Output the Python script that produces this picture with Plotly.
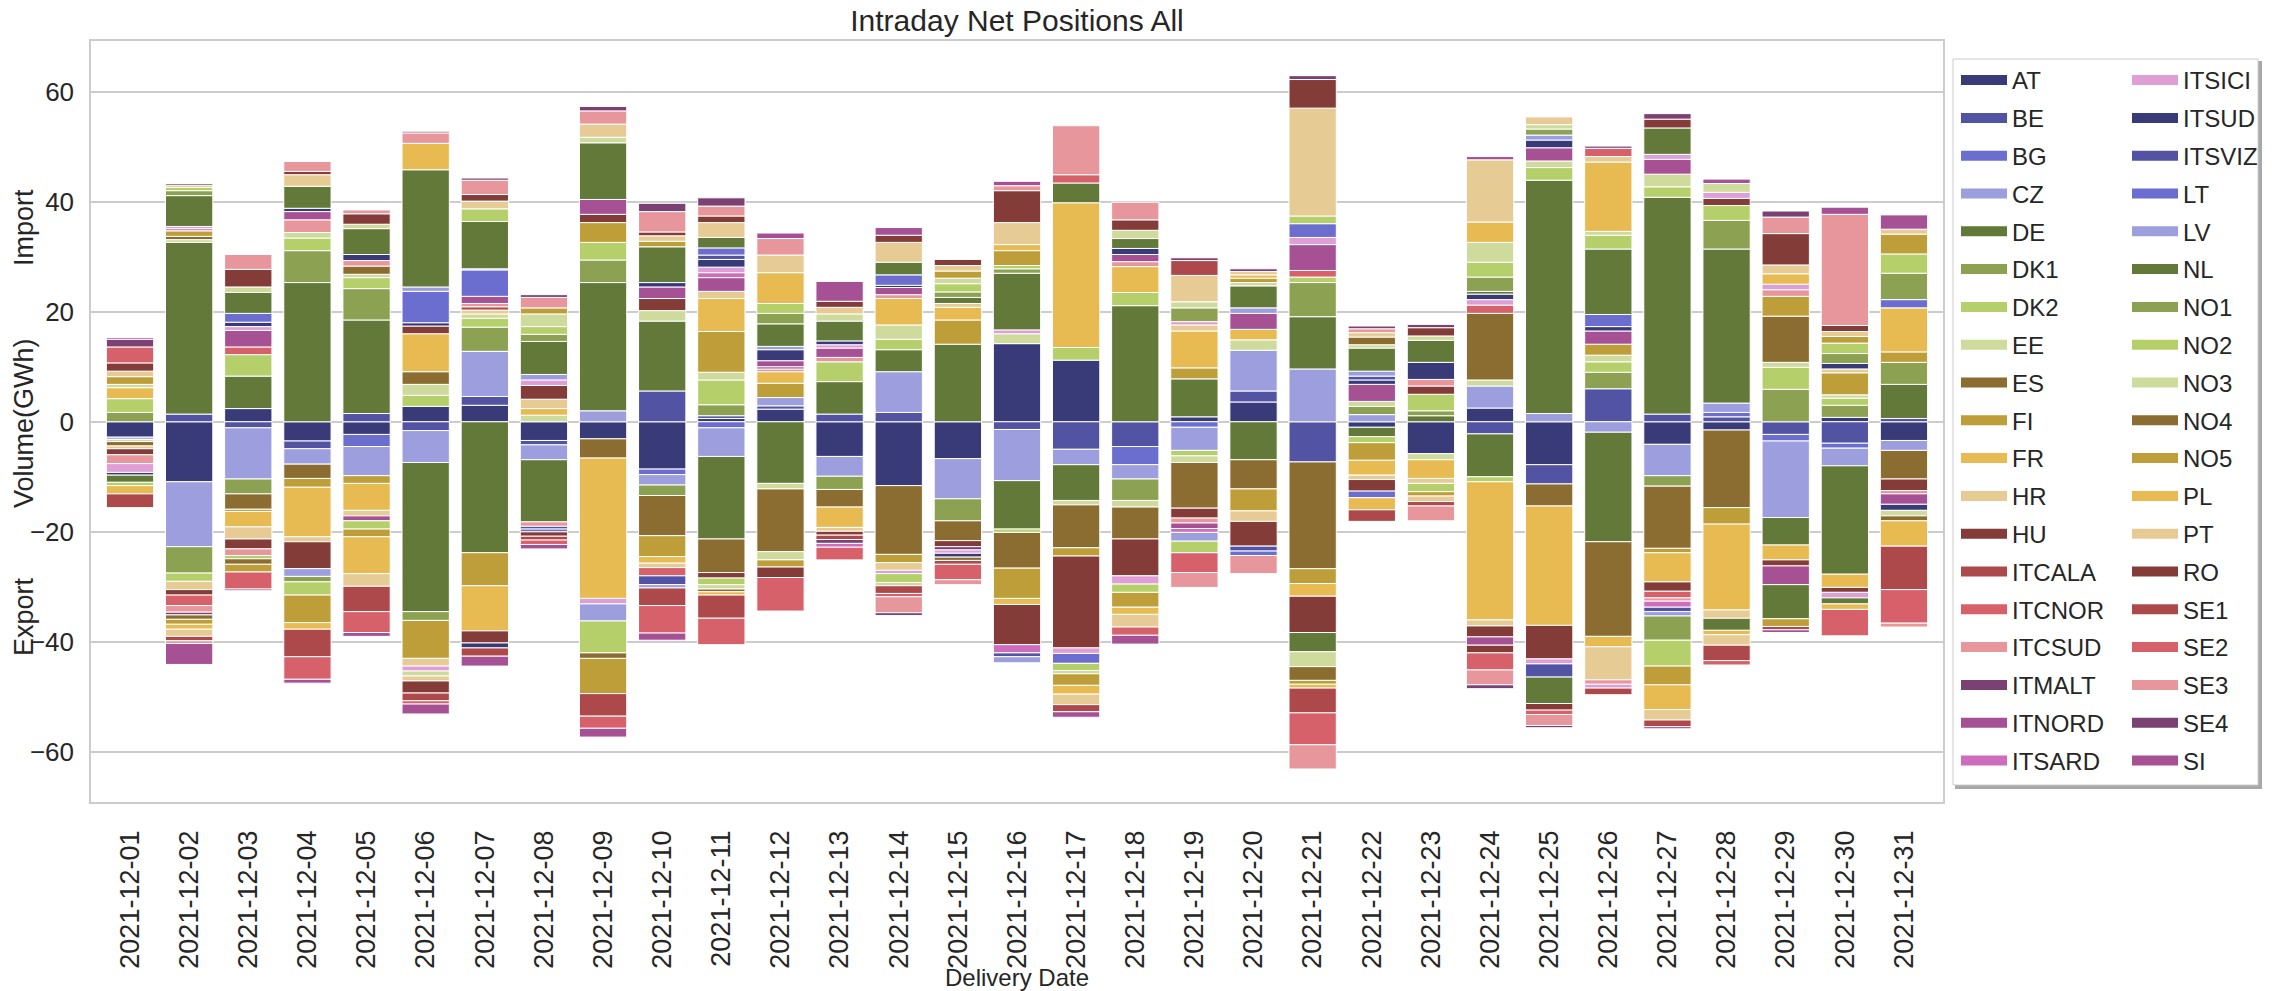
import plotly.graph_objects as go

dates = ["2021-12-01", "2021-12-02", "2021-12-03", "2021-12-04", "2021-12-05", "2021-12-06",
         "2021-12-07", "2021-12-08", "2021-12-09", "2021-12-10", "2021-12-11", "2021-12-12",
         "2021-12-13", "2021-12-14", "2021-12-15", "2021-12-16", "2021-12-17", "2021-12-18",
         "2021-12-19", "2021-12-20", "2021-12-21", "2021-12-22", "2021-12-23", "2021-12-24",
         "2021-12-25", "2021-12-26", "2021-12-27", "2021-12-28", "2021-12-29", "2021-12-30",
         "2021-12-31"]

# Net position per bidding zone (GWh), positive = import, negative = export
AT = [-2.8, -10.9, 2.4, -3.5, -2.3, 2.8, 3.0, -3.4, -3.1, -8.6, 0.6, 2.3, -6.3, -11.6, -6.7, 14.2, 11.2, 0, 0.9, 3.6, 0, -1.0, -5.8, 2.5, -7.8, 0, -4.1, -1.5, 0, 0.8, -3.4]
BE = [0, 1.4, -1.1, -1.4, 1.5, -1.6, 1.6, -0.8, 0, 5.6, 0.5, 0.6, 1.4, 1.7, 0, -1.4, -5.0, -4.5, 0, 2.0, -7.3, 0, 0, -2.2, -3.5, 6.0, 1.4, 0.9, -2.3, -3.9, 0.6]
BG = [0, 0, 0, 0, -2.2, 0, 0, 0, 0, -1.0, -1.1, 0, 0, 0, 0, 0, 0, -3.3, -1.0, 0, 0, 0, 0, 0, 0, 0, 0, 0.8, -1.2, -0.9, 0]
CZ = [-0.4, -11.8, -9.3, -2.8, -5.3, -5.8, 8.2, -2.7, 2.0, -1.9, -5.2, 1.5, -3.6, 7.4, -7.3, -9.3, -2.8, -2.6, -4.2, 7.4, 9.6, 1.3, 0, 4.0, 1.5, -1.9, -5.7, 1.7, -13.9, -3.2, -1.8]
DE = [0, 31.2, 5.9, 25.3, 17.0, -27.1, -23.8, -11.3, 23.3, 12.7, -15.0, -11.2, 5.9, 4.0, 14.1, -8.8, -6.5, 21.1, 6.9, -6.9, 9.5, -1.7, 1.1, -7.8, 42.4, -19.9, 39.4, 28.0, -5.0, -19.7, 6.2]
DK1 = [1.7, -4.8, -2.7, 5.8, 5.7, -1.6, 4.4, 0, 4.1, -1.9, 2.0, 0, -2.4, 0, -4.0, 0, 0, -3.9, 0, 0, 6.2, 1.5, 0.9, 0, 0, 3.0, -1.9, 5.2, 5.9, 2.2, 4.0]
DK2 = [2.5, -1.5, 3.9, 2.3, 2.0, 2.0, 1.6, 0, 3.2, 0, 4.5, 0, 3.6, 1.9, 0, -0.6, 2.3, 2.4, -1.0, 0, 1.0, -1.1, 3.0, -0.9, 2.3, 1.9, 1.9, 2.7, 4.0, 1.3, 0]
EE = [-0.4, 0.5, 0, 1.0, 0.6, 2.0, 0.8, 1.2, 0, 1.9, 1.4, -1.0, 0, 2.6, 0, 1.8, -0.8, -1.2, -1.2, 1.9, 0, 0.9, -1.1, 1.1, 1.2, 1.2, 2.3, 0, 0.9, 0.6, 0]
ES = [-0.8, 0.6, -2.8, -2.6, 1.5, 2.3, 0, 0, -3.5, -7.3, -6.1, -11.4, -3.2, -12.5, -3.6, -6.5, -7.8, -5.8, -8.3, -5.3, -19.4, 0, 0, 12.1, -4.0, -17.2, -11.3, -14.1, 8.4, 0, -5.2]
FI = [0, 1.0, -0.4, -1.6, -1.4, -6.9, -6.0, 0, 3.6, -3.8, 7.4, 2.6, 0, -1.5, 4.4, -5.5, -1.5, 0, 2.0, -4.0, -2.7, -3.2, 0, 0, 0, 2.0, -0.8, -3.0, 3.6, 4.0, 1.9]
FR = [2.0, 0, -2.8, -9.0, -4.9, 6.9, -8.2, 1.2, -25.5, -1.2, 6.0, 2.1, -3.7, 4.8, 2.3, -1.1, 26.3, 4.7, 6.7, 1.9, -2.3, -2.7, -3.4, -25.1, -21.7, -1.9, -5.3, -15.6, -2.7, -2.4, 8.0]
HR = [-0.5, -1.5, -2.2, -0.9, -1.0, -1.4, 0.7, 1.7, 0, -0.8, 1.3, 0, -0.7, -1.4, 0.7, 0, 0, 0, 1.1, -1.9, 0, -0.8, -0.9, -1.1, 0, -6.0, 0, -1.5, 0, 0.7, 0]
HU = [-1.1, -1.0, -1.8, -4.9, 0, 1.4, -2.2, 2.5, 1.5, 2.2, -1.0, 0, -0.7, 0, -1.1, -7.3, -16.7, -6.7, -1.8, -4.5, -6.6, -2.1, 1.5, -2.0, -6.1, 0, -1.7, 1.3, -1.1, -0.9, -2.1]
ITCALA = [0, 0, 0, 0, 0, 0, 0.6, 0, 0, 0, 0, 0, -0.8, 0, 0, 0, 0, 0, 0, 0, 0, 0, 0, 0, 0, 0, 0, 0, 0, 0, 0]
ITCNOR = [0, -1.9, 1.4, 0, 0, 0, 0, 0, 0, -1.5, 0, 0, 0, 0, 0, 0, 0, 0, 0, 0, 1.2, 0, 0, 1.5, 0, 0, -1.2, 0, 0, 0, 0]
ITCSUD = [-1.6, -1.2, -1.2, 2.3, 1.0, 0, 0.6, -0.8, 0, 0, 0, 0.5, 0.8, 0.7, 0, 0, 0, 0.9, -0.9, 0, 0, 0, 1.2, 0, 0, -0.8, -0.6, 0, 1.2, 0, -0.6]
ITMALT = [0, -0.5, 0, 0, 0, 0, 0, 0, 0, 0, 0, 0.4, -0.7, 0, -0.6, 0, 0, 0, 0, 0, 0, 0, 0, 0, 0, 0, 0, 0, 0, 0, 0]
ITNORD = [0, 0, 3.0, 1.5, -0.9, 0, 1.3, 0, 2.7, 2.1, 2.5, 1.1, 1.7, 1.3, 0, 0, 0, 1.3, -1.0, 2.9, 4.7, 3.1, 0, -1.5, 2.4, 2.4, 2.7, 0, -3.4, 0, -1.9]
ITSARD = [0, 0.4, 0, 0, 0, 0, 0, 0, 0, 0, 0.9, 0, -0.7, 0, 0, -1.5, 0, 0, -0.7, 0, 0, 0, 0, 0, 0, 0, -1.1, 0, 0, 0, 0]
ITSICI = [-1.6, 0.4, 0.7, 0, 0, -0.9, 0, 1.0, -1.0, 0, 1.0, 0, 0.6, -0.6, -0.6, 0.7, -1.0, -1.5, 0.6, 0, 1.3, 0, 0, 1.0, -0.9, -0.7, 0.9, 1.1, 1.0, -1.0, 0]
ITSUD = [-0.5, 0, 0.8, 0.6, 1.1, 0.6, -0.9, 0, 0, 0.8, 1.4, 2.0, 0.7, 0.4, -0.7, 0, 0, 1.1, 0, 0, 0, 0.8, 3.1, 1.0, 1.4, 0.8, 0, 0, 0, 1.0, -1.1]
ITSVIZ = [0, 0, 0, 0, 0, 0, 0, -0.5, 0, -1.6, 0.8, 0, 0, 0, 0, -0.7, 0, 0, 0, -0.9, 0, 0.7, 0, 0, -2.4, 0, -0.8, 0, 0, 0, 0]
LT = [0, 0, 1.6, 0, 0, 5.7, 4.8, -0.5, 0, 0, 1.3, 0, 0, 1.9, 0, 0, -1.8, 0, 0, -0.8, 2.5, -1.2, 0, 0, 0, 2.2, 0, 0, 0, 0, 1.5]
LV = [0, 0, 0, -1.4, 0, 0.8, 0.2, 1.0, -3.1, -0.6, 0, 0.6, 0, 0, 0, -1.1, 0, 0, -1.6, 1.0, 0, 0.9, 0, 0, 0.9, 0, -0.8, 0, 0, 0, 0]
NL = [-1.3, 5.6, 3.8, 4.0, 4.7, 21.3, 8.6, 6.0, 10.3, 6.5, 1.9, 4.1, 3.6, 2.3, 1.1, 10.3, 3.6, 1.8, 0, 4.0, -3.5, 4.2, 4.0, 0.5, -4.8, 11.9, 4.8, -2.2, -6.2, -1.1, 0]
NO1 = [0, 0.9, 0, -1.0, 0, 0, 0, 1.3, 0, 0, 0, 1.9, 0, 0, 1.0, 0.8, 0, 0, 2.5, 0, 0, 0, 0, 2.6, 1.1, 0, -4.4, 0, 0, 1.8, 4.8]
NO2 = [-0.6, 0.6, -0.6, -2.4, -1.5, 0, 2.3, 1.4, -5.8, 0, -1.2, 1.8, 0, -1.6, 1.5, 0.6, -1.3, -1.5, -2.1, 0, 1.4, 0, -1.5, 2.7, 0, 2.5, -4.7, 0, 0, 1.9, 3.5]
NO3 = [0.6, 0.4, 1.0, 0, 0.8, -0.9, 0, 2.3, 1.0, 0, -0.8, -1.5, 1.3, -0.6, 1.0, 0, -0.6, 1.5, 1.1, 0.6, -2.7, 0.6, 0.8, 3.6, 0.8, 0.7, 0, 1.6, 0, 0, -1.0]
NO4 = [0, -0.8, -1.0, 0, 0, 0, 0, 0, -1.0, 0, -0.5, 0, 0, 0, -0.6, 0, 0, 0, 0, 0, -2.5, 1.4, 0, 0, 0, 0, 0, 0, 0, 0, -0.9]
NO5 = [1.4, -0.9, -1.4, -5.0, -1.4, 0, 0, 1.1, -6.4, 1.0, 0, -1.3, 0, 0, 1.3, 2.7, -2.1, -2.7, 0, 0.8, -0.7, 0, -0.8, 0, 0, 0, -3.4, 0, -1.4, 1.2, 3.6]
PL = [-1.5, -0.9, 0, -1.2, -6.7, 4.8, 0, 0, 0, 0, -0.6, 5.6, 0, 0, 0, 1.1, -1.6, -1.3, 0, 0.6, -0.7, -2.2, 0, 3.7, 0, 12.6, -4.5, -0.8, 1.9, -1.0, -4.6]
PT = [1.0, -1.3, 0, 2.1, -2.3, -0.9, 1.4, 0, 2.4, 1.0, 2.7, 3.2, 1.2, 3.6, 1.0, 4.0, -1.9, -2.3, 4.8, 0.6, 19.6, 0.8, -1.0, 11.3, 1.4, 1.0, -1.9, -1.9, 1.6, 0.9, 0.9]
RO = [1.5, 0.3, 3.2, 0.6, 1.9, -2.2, 1.2, -0.8, 0, 0.7, 1.2, -1.9, 1.1, 1.3, 1.1, 5.8, 0, 1.9, 0, 0, 5.2, 0, 1.5, -1.4, -1.2, 0, 1.6, 0, 5.7, 1.1, 0]
SE1 = [-2.5, -0.8, 0, -5.0, -4.6, -1.4, -1.5, -0.7, -4.1, -3.2, -4.2, 0, 0, -1.4, -0.7, 0, -1.3, 0, 2.7, 0, -4.5, -2.1, -0.8, 0, 0, -1.2, -1.2, -2.8, -0.6, 0, -7.9]
SE2 = [2.9, 0, -3.1, -4.1, -3.8, -0.6, 0, -0.8, -2.2, -5.0, -4.8, -6.1, -2.3, -0.6, -2.8, 0, 1.5, -1.5, -3.6, 0, -5.8, 0, 0, -3.1, -0.8, 1.5, 0, -0.8, 0, -4.8, -6.1]
SE3 = [0, -0.5, 2.7, 1.8, 0.7, 1.9, 2.6, 1.9, 2.4, 3.7, 1.8, 3.0, 0, -2.9, -0.9, 0.9, 8.9, 3.2, -2.7, -3.3, -4.4, 0.7, -2.7, -2.7, -2.0, 0, 0, 0, 3.0, 20.2, -0.7]
SE4 = [1.4, 0, -0.3, 0, 0, 0.3, 0.4, 0.5, 0.8, 1.5, 1.5, 0, 0, -0.5, 0, 0, 0, 0, 0.5, 0.5, 0.7, 0.5, 0.6, -0.7, -0.4, 0.4, 1.0, 0, 1.1, 0, 0]
SI = [0.3, -3.8, 0, -0.7, -0.7, -1.8, -1.8, -0.8, -1.6, -1.3, 0, 1.0, 3.6, 1.4, 0, 0.8, -1.0, -1.6, 0, 0, 0, 0, 0, 0.6, 0, 0, -0.4, 0.8, -0.5, 1.3, 2.6]

zones = ["AT", "BE", "BG", "CZ", "DE", "DK1", "DK2", "EE", "ES", "FI", "FR", "HR", "HU",
         "ITCALA", "ITCNOR", "ITCSUD", "ITMALT", "ITNORD", "ITSARD", "ITSICI", "ITSUD",
         "ITSVIZ", "LT", "LV", "NL", "NO1", "NO2", "NO3", "NO4", "NO5", "PL", "PT", "RO",
         "SE1", "SE2", "SE3", "SE4", "SI"]
series = [AT, BE, BG, CZ, DE, DK1, DK2, EE, ES, FI, FR, HR, HU, ITCALA, ITCNOR, ITCSUD,
          ITMALT, ITNORD, ITSARD, ITSICI, ITSUD, ITSVIZ, LT, LV, NL, NO1, NO2, NO3, NO4,
          NO5, PL, PT, RO, SE1, SE2, SE3, SE4, SI]

# matplotlib tab20b palette
palette = ["#393b79", "#5254a3", "#6b6ecf", "#9c9ede", "#637939", "#8ca252", "#b5cf6b",
           "#cedb9c", "#8c6d31", "#bd9e39", "#e7ba52", "#e7cb94", "#843c39", "#ad494a",
           "#d6616b", "#e7969c", "#7b4173", "#a55194", "#ce6dbd", "#de9ed6"]

FONT = "Liberation Sans, Arial, sans-serif"
TXT = "#262626"

W, H = 2272, 991
L, R, T, B = 91, 1943, 41, 802          # plot area in pixels
PW, PH = R - L, B - T

def px_x(x):
    return (x - L) / PW

def px_y(y):
    return 1 - (y - T) / PH

fig = go.Figure()
for i, (z, vals) in enumerate(zip(zones, series)):
    fig.add_trace(go.Bar(
        x=dates, y=[v if v != 0 else None for v in vals], name=z,
        marker=dict(color=palette[i % 20], line=dict(color="white", width=1)),
        width=0.8, showlegend=False, legendgroup=z,
    ))
for i, z in enumerate(zones):
    fig.add_trace(go.Scatter(
        x=[dates[0]], y=[None], mode="lines", name=z, legendgroup=z,
        line=dict(color=palette[i % 20], width=10),
        legend="legend" if i < 19 else "legend2", showlegend=True, hoverinfo="skip",
    ))

legend_common = dict(
    xanchor="left", yanchor="top", y=px_y(58),
    bgcolor="rgba(0,0,0,0)", borderwidth=0,
    font=dict(family=FONT, size=24, color=TXT),
    tracegroupgap=3.6, itemwidth=46, traceorder="grouped",
)

fig.update_layout(
    template="none",
    width=W, height=H,
    barmode="relative",
    paper_bgcolor="white", plot_bgcolor="white",
    font=dict(family=FONT, color=TXT),
    margin=dict(l=L, r=W - R, t=T, b=H - B, autoexpand=False, pad=0),
    title=dict(text="Intraday Net Positions All", x=0.5, xref="paper", xanchor="center",
               y=1 - 20 / H, yref="container", yanchor="middle",
               font=dict(family=FONT, size=30, color=TXT)),
    xaxis=dict(type="category", range=[-0.66, 30.66], showgrid=False, zeroline=False,
               showline=True, mirror=True, linecolor="#cccccc", linewidth=1.5,
               ticks="", tickangle=-90, ticklabelstandoff=16,
               tickfont=dict(family=FONT, size=27, color=TXT), automargin=False,
               title=dict(text="Delivery Date", standoff=5,
                          font=dict(family=FONT, size=24, color=TXT))),
    yaxis=dict(range=[-69.1, 69.2], tickvals=[-60, -40, -20, 0, 20, 40, 60],
               showgrid=True, gridcolor="#cccccc", gridwidth=1.5, zeroline=False,
               showline=True, mirror=True, linecolor="#cccccc", linewidth=1.5,
               ticks="", ticklabelstandoff=10, automargin=False,
               tickfont=dict(family=FONT, size=26, color=TXT)),
    legend=dict(x=px_x(1956), **legend_common),
    legend2=dict(x=px_x(2127), **legend_common),
    shapes=[
        dict(type="rect", xref="paper", yref="paper", layer="below",
             x0=px_x(1956), x1=px_x(2261), y0=px_y(62), y1=px_y(788),
             line=dict(color="#a8a8a8", width=2), fillcolor="#a8a8a8"),
        dict(type="rect", xref="paper", yref="paper", layer="below",
             x0=px_x(1953), x1=px_x(2258), y0=px_y(59), y1=px_y(785),
             line=dict(color="#cccccc", width=1), fillcolor="white"),
    ],
    annotations=[
        dict(text="Import", x=px_x(24), y=px_y(228), xref="paper", yref="paper",
             showarrow=False, textangle=-90, xanchor="center", yanchor="middle",
             font=dict(family=FONT, size=27, color=TXT)),
        dict(text="Volume(GWh)", x=px_x(24), y=px_y(423), xref="paper", yref="paper",
             showarrow=False, textangle=-90, xanchor="center", yanchor="middle",
             font=dict(family=FONT, size=27, color=TXT)),
        dict(text="Export", x=px_x(24), y=px_y(617), xref="paper", yref="paper",
             showarrow=False, textangle=-90, xanchor="center", yanchor="middle",
             font=dict(family=FONT, size=27, color=TXT)),
    ],
)

fig.write_html("out.html", config={"displayModeBar": False},
               post_script="document.body.style.margin='0';document.body.style.overflow='hidden';")
